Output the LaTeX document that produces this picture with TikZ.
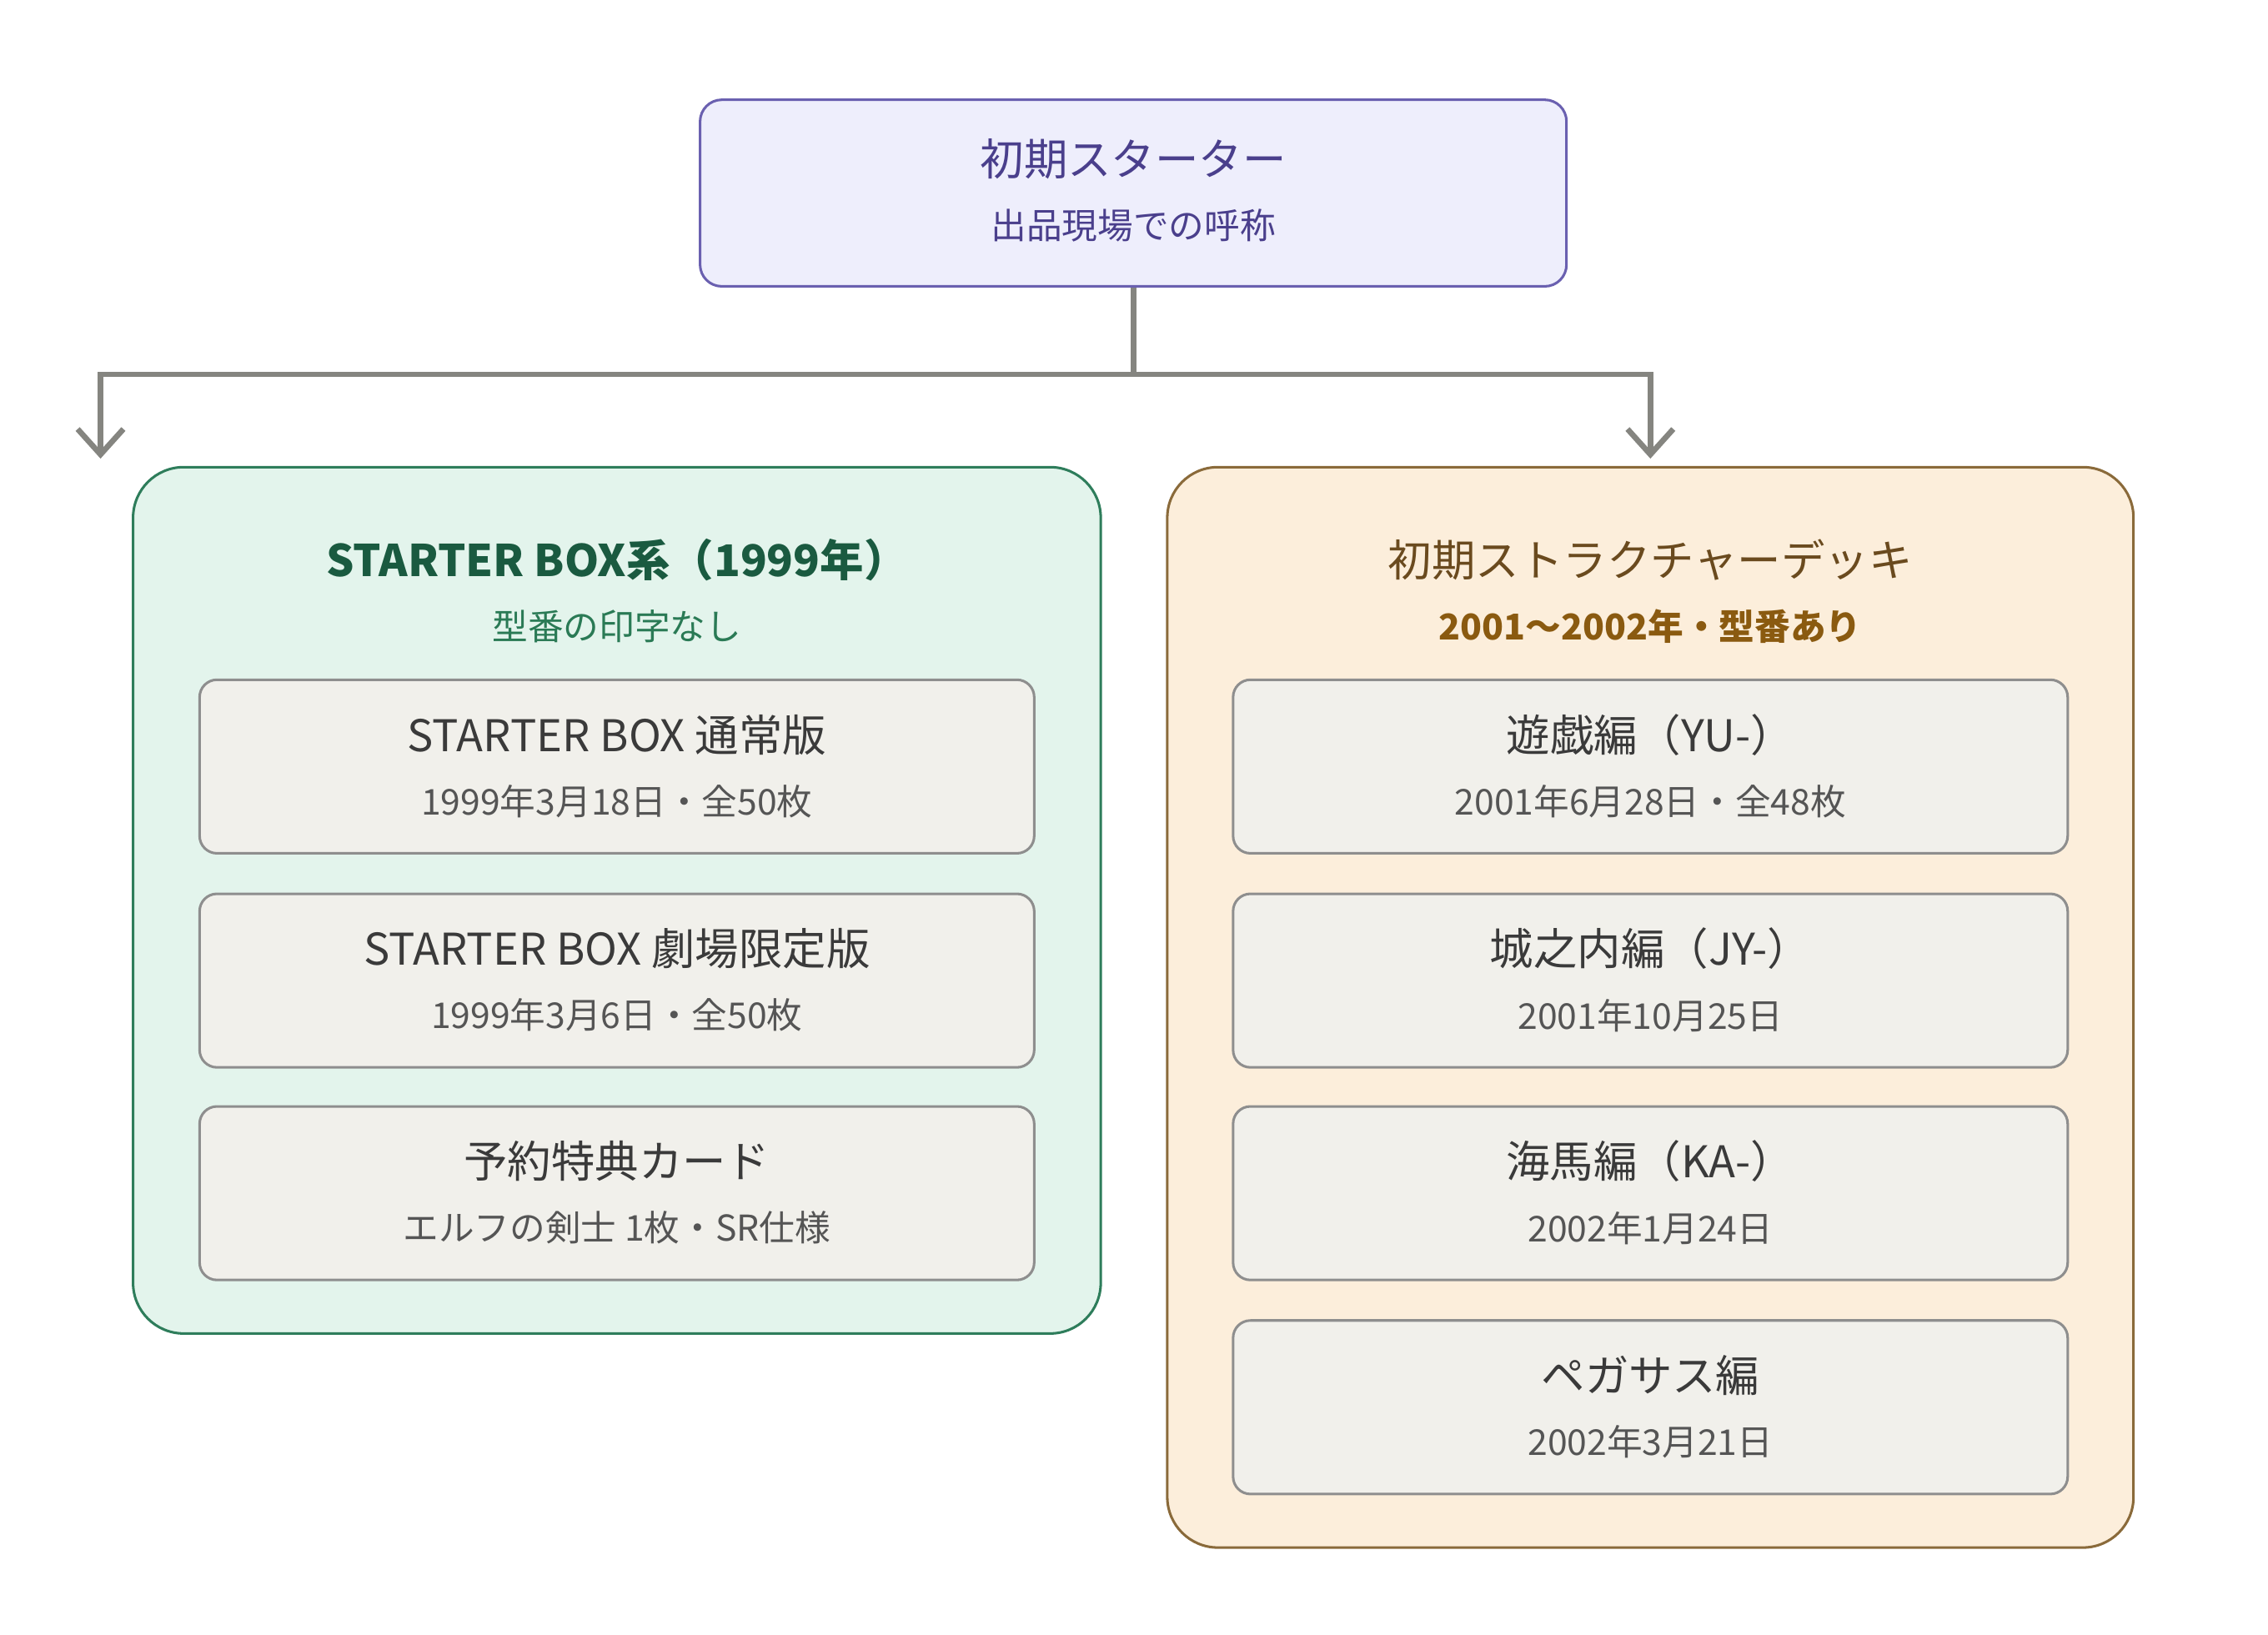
\documentclass[tikz,border=0pt]{standalone}
\usepackage{fontspec}
\setmainfont{Noto Sans CJK JP}
\usetikzlibrary{positioning,arrows.meta}
\definecolor{topfill}{HTML}{EEEEFC}
\definecolor{topline}{HTML}{6A60B0}
\definecolor{toptext}{HTML}{4A3F8C}
\definecolor{lfill}{HTML}{E3F4EC}
\definecolor{lline}{HTML}{2E7D5B}
\definecolor{ltext}{HTML}{1A5A40}
\definecolor{lsub}{HTML}{2A7A55}
\definecolor{rfill}{HTML}{FCEEDB}
\definecolor{rline}{HTML}{8A6A3A}
\definecolor{rtext}{HTML}{6A4A1E}
\definecolor{rsub}{HTML}{8A5A10}
\definecolor{ifill}{HTML}{F1F0EB}
\definecolor{iline}{HTML}{8E8E8E}
\definecolor{itext}{HTML}{3A3A3A}
\definecolor{isub}{HTML}{555555}
\definecolor{conn}{HTML}{858580}
\newcommand\ttl{\fontsize{8.6pt}{10pt}\selectfont}
\newcommand\sbt{\fontsize{7pt}{9pt}\selectfont}
\begin{document}
\begin{tikzpicture}[
    box/.style = {draw=#1, line width=0.5pt, inner sep=0pt},
    item/.style = {box=iline, fill=ifill, rounded corners=0.12cm, minimum width=5.77cm, minimum height=1.2cm},
    arrow/.style = {draw=conn, line width=1.1pt, -{Straight Barb[length=5pt,width=9pt]}}]
    \useasboundingbox (0,0) rectangle (15.68,-11.30);
    % top
    \node (top) [box=topline, fill=topfill, rounded corners=0.15cm, minimum width=5.99cm, minimum height=1.29cm] at (7.835,-1.335) {};
    \node [toptext] at (7.835,-1.10) {\ttl 初期スターター};
    \node [toptext] at (7.835,-1.56) {\sbt 出品現場での呼称};
    % groups
    \node (left) [box=lline, fill=lfill, rounded corners=0.35cm, minimum width=6.69cm, minimum height=5.99cm] at (4.265,-6.225) {};
    \node [ltext] at (4.265,-3.87) {\ttl\bfseries STARTER BOX系（1999年）};
    \node [lsub] at (4.265,-4.33) {\sbt 型番の印字なし};
    \node (right) [box=rline, fill=rfill, rounded corners=0.35cm, minimum width=6.68cm, minimum height=7.47cm] at (11.41,-6.965) {};
    \node [rtext] at (11.41,-3.87) {\ttl 初期ストラクチャーデッキ};
    \node [rsub] at (11.41,-4.33) {\sbt\bfseries 2001〜2002年・型番あり};
    % items
    \foreach \n/\y/\a/\b in {l1/-5.30/STARTER BOX 通常版/1999年3月18日・全50枚,
                             l2/-6.78/STARTER BOX 劇場限定版/1999年3月6日・全50枚,
                             l3/-8.25/予約特典カード/エルフの剣士 1枚・SR仕様} {
      \node (\n) [item] at (4.265,\y) {};
      \node [itext] at ([yshift=0.22cm]\n.center) {\ttl \a};
      \node [isub] at ([yshift=-0.24cm]\n.center) {\sbt \b};
    }
    \foreach \n/\y/\a/\b in {r1/-5.30/遊戯編（YU-）/2001年6月28日・全48枚,
                             r2/-6.78/城之内編（JY-）/2001年10月25日,
                             r3/-8.25/海馬編（KA-）/2002年1月24日,
                             r4/-9.73/ペガサス編/2002年3月21日} {
      \node (\n) [item] at (11.41,\y) {};
      \node [itext] at ([yshift=0.22cm]\n.center) {\ttl \a};
      \node [isub] at ([yshift=-0.24cm]\n.center) {\sbt \b};
    }
    % connectors
    \coordinate (split) at ([yshift=-0.60cm]top.south);
    \draw [arrow] (top.south) -- (split) -| ([xshift=-3.57cm,yshift=0.05cm]left.north east -| left.north);
    \draw [arrow] (split) -| ([yshift=0.05cm]right.north);
    \draw [draw=conn, line width=1.1pt] (top.south) -- (split);
\end{tikzpicture}
\end{document}
